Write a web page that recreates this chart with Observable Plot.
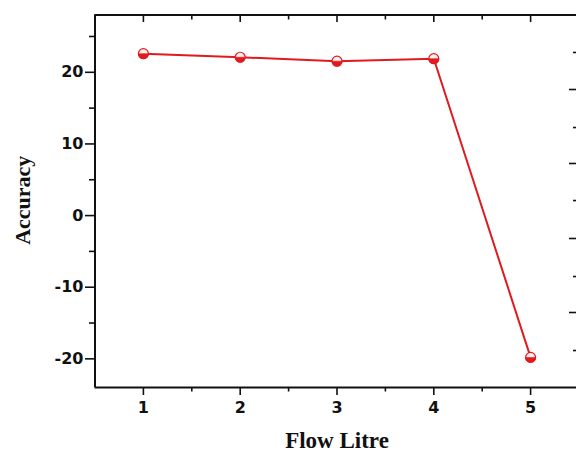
<!DOCTYPE html>
<html>
<head>
<meta charset="utf-8">
<script src="https://cdn.jsdelivr.net/npm/d3@7"></script>
<script src="https://cdn.jsdelivr.net/npm/@observablehq/plot@0.6"></script>
<style>
  html, body { margin: 0; padding: 0; background: #fff; }
  svg { overflow: hidden; }
</style>
</head>
<body>
<div id="chart"></div>
<script>
// Data
const flow = [1, 2, 3, 4, 5];
const accuracy = [22.6, 22.1, 21.55, 21.9, -19.8];

// Tick values
const xMajor = [1, 2, 3, 4, 5];
const xMinor = [1.5, 2.5, 3.5, 4.5];
const yMajor = [-20, -10, 0, 10, 20];
const yMinor = [-15, -5, 5, 15, 25];
// right-hand (secondary) axis tick positions expressed in accuracy units
const rightMajor = [17.6, 7.27, -3.2, -13.53];
const rightMinor = [22.77, 12.29, 2.1, -8.51, -18.84];

const xDomain = [0.5, 5.5];
const yDomain = [-24, 28];

const data = flow.map((f, i) => ({flow: f, acc: accuracy[i]}));

const red = "#e01a1e";
const W = 576, H = 452;
const mL = 94.5, mR = -2.5, mT = 14.5, mB = 65;
const plotW = W - mL - mR, plotH = H - mT - mB;

const halfDown = {
  draw(context, size) {
    const r = Math.sqrt(size / Math.PI);
    context.moveTo(r, 0);
    context.arc(0, 0, r, 0, Math.PI);
    context.closePath();
  }
};

const fmt = d => String(d);

const chart = Plot.plot({
  width: W,
  height: H,
  marginLeft: mL,
  marginRight: mR,
  marginTop: mT,
  marginBottom: mB,
  style: {fontFamily: "DejaVu Sans", fontSize: "16px", fontWeight: "bold", color: "#111", background: "#fff"},
  x: {domain: xDomain},
  y: {domain: yDomain},
  marks: [
    // frame (left, top, bottom)
    Plot.ruleX([xDomain[0]], {stroke: "#111", strokeWidth: 2}),
    Plot.ruleY([yDomain[0]], {stroke: "#111", strokeWidth: 2}),
    Plot.ruleY([yDomain[1]], {stroke: "#111", strokeWidth: 2}),
    // left axis
    Plot.axisY({ticks: yMajor, anchor: "left", tickSize: 9.5, tickPadding: 2, tickFormat: fmt, label: null, strokeWidth: 1.6, stroke: "#111"}),
    Plot.axisY({ticks: yMinor, anchor: "left", tickSize: 5.5, tickFormat: () => "", label: null, strokeWidth: 1.6, stroke: "#111"}),
    // bottom axis
    Plot.axisX({ticks: xMajor, anchor: "bottom", tickSize: 8, tickPadding: 6, tickFormat: fmt, label: null, strokeWidth: 1.6, stroke: "#111"}),
    Plot.axisX({ticks: xMinor, anchor: "bottom", tickSize: 4.5, tickFormat: () => "", label: null, strokeWidth: 1.6, stroke: "#111"}),
    // top inward ticks
    Plot.tickX(xMajor, {x: d => d, insetBottom: plotH - 7.5, stroke: "#111", strokeWidth: 1.6}),
    Plot.tickX(xMinor, {x: d => d, insetBottom: plotH - 5, stroke: "#111", strokeWidth: 1.6}),
    // right inward ticks
    Plot.tickY(rightMajor, {y: d => d, insetLeft: plotW - 9.5, stroke: "#111", strokeWidth: 1.6}),
    Plot.tickY(rightMinor, {y: d => d, insetLeft: plotW - 5.5, stroke: "#111", strokeWidth: 1.6}),
    // axis titles
    Plot.text(["Flow Litre"], {frameAnchor: "bottom", textAnchor: "middle", lineAnchor: "middle", dy: 53, fontFamily: "Liberation Serif", fontSize: 23, fontWeight: "bold", fill: "#111"}),
    Plot.text(["Accuracy"], {frameAnchor: "left", textAnchor: "middle", lineAnchor: "middle", rotate: -90, dx: -72, dy: -1, fontFamily: "Liberation Serif", fontSize: 22, fontWeight: "bold", fill: "#111"}),
    // series
    Plot.line(data, {x: "flow", y: "acc", stroke: red, strokeWidth: 2}),
    Plot.dot(data, {x: "flow", y: "acc", r: 5, fill: "#fff0f0", stroke: red, strokeWidth: 1.2}),
    Plot.dot(data, {x: "flow", y: "acc", r: 5, symbol: halfDown, fill: red, stroke: red, strokeWidth: 0.6})
  ]
});

document.getElementById("chart").appendChild(chart);
</script>
</body>
</html>
